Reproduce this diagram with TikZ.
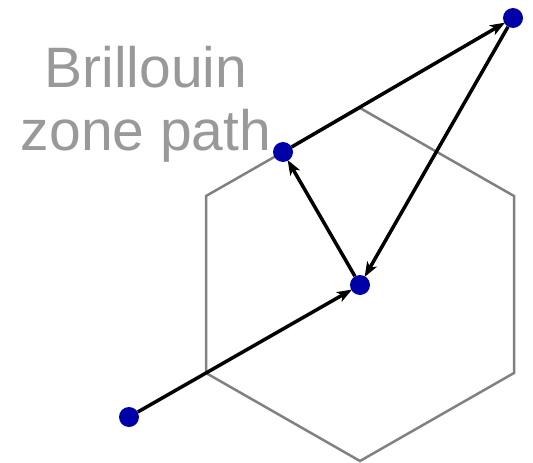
\documentclass[tikz,border=0pt]{standalone}
\usepackage{fontspec}
\setmainfont{Liberation Sans}
\usetikzlibrary{arrows.meta}
\definecolor{dotblue}{RGB}{0,0,168}
\definecolor{hexgray}{RGB}{128,128,128}
\definecolor{txtgray}{RGB}{153,153,153}
\tikzset{
  kpt/.style={circle,fill=dotblue,inner sep=0pt,minimum size=20pt},
  hexline/.style={draw=hexgray,line width=2.5pt,line join=miter},
  patharrow/.style={draw=black,line width=3.5pt,-{Stealth[length=15pt,width=11pt,inset=4pt]},shorten >=-1pt},
  lbl/.style={text=txtgray,font=\fontsize{57}{63}\selectfont,anchor=base,inner sep=0pt}
}
\begin{document}
\begin{tikzpicture}[x=1pt,y=-1pt]
\useasboundingbox (0,0) rectangle (533,463);
\draw[hexline] (360,108) -- (514,196) -- (514,373) -- (360,461) -- (206,373) -- (206,196) -- cycle;
\node[lbl] (t1) at (146,87) {Brillouin};
\node[lbl] (t2) at (146,150) {zone path};
\node[kpt] (p1) at (513,18) {};
\node[kpt] (p2) at (283,152) {};
\node[kpt] (p3) at (360,285) {};
\node[kpt] (p4) at (129,417) {};
\draw[patharrow] (p4) -- (p3);
\draw[patharrow] (p3) -- (p2);
\draw[patharrow] (p2) -- (p1);
\draw[patharrow] (p1) -- (p3);
\end{tikzpicture}
\end{document}
